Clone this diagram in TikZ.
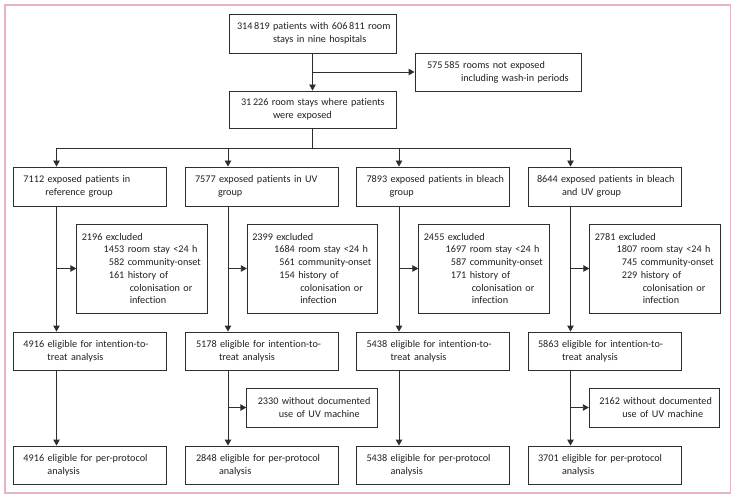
\documentclass[tikz,border=0pt]{standalone}
\usepackage{fontspec}
\setmainfont[Ligatures=NoCommon]{Carlito}
\usetikzlibrary{arrows.meta}
\definecolor{linec}{RGB}{45,45,45}
\definecolor{textc}{RGB}{35,31,32}
\definecolor{pinkc}{RGB}{232,178,200}
\newcommand\nf{\fontsize{10.2bp}{12.7bp}\selectfont}
\newcommand\exn[1]{\makebox[46bp][r]{#1\ }}
\newcommand\Ln[2]{\hbox{\kern#1bp\relax#2}}
\tikzset{
  box/.style n args={2}{draw=linec, line width=0.9bp, inner sep=0pt,
    text width=#1, minimum height=#2, align=left, font=\nf, text=textc},
  arr/.style={draw=linec, line width=0.9bp, -{Triangle[length=6bp,width=6.5bp]}},
  ln/.style={draw=linec, line width=0.9bp}
}
\begin{document}
\begin{tikzpicture}[x=1bp,y=-1bp]
\useasboundingbox (0,0) rectangle (735,499);
\draw[pinkc, line width=1.4bp] (5,5) rectangle (730.5,493);

% top part
\node[box={167bp}{39bp}] (top) at (312.5,33.5)
  {\vbox{\Ln{8}{314\,819 patients with 606\,811 room}\Ln{44}{stays in nine hospitals}}};
\node[box={166bp}{38bp}] (ex0) at (498,72)
  {\vbox{\Ln{12}{575\,585 rooms not exposed}\Ln{46}{including wash-in periods}}};
\node[box={167bp}{37bp}] (exp) at (312.5,109.5)
  {\vbox{\Ln{12}{31\,226 room stays where patients}\Ln{44}{were exposed}}};

\coordinate (b0) at (312.5,72);
\draw[arr] (top.south) -- (exp.north);
\draw[arr] (b0) -- (ex0.west);

% hub
\coordinate (hub) at (312.5,148);
\coordinate (h1) at (56.5,148);
\coordinate (h2) at (228,148);
\coordinate (h3) at (399,148);
\coordinate (h4) at (570.5,148);
\draw[ln] (exp.south) -- (hub);
\draw[ln] (h1) -- (h4);

% groups
\node[box={153bp}{39bp}] (g1) at (90,186.5)
  {\vbox{\Ln{10}{7112 exposed patients in}\Ln{32}{reference group}}};
\node[box={153bp}{39bp}] (g2) at (261.5,186.5)
  {\vbox{\Ln{10}{7577 exposed patients in UV}\Ln{33}{group}}};
\node[box={153bp}{39bp}] (g3) at (433,186.5)
  {\vbox{\Ln{10}{7893 exposed patients in bleach}\Ln{33}{group}}};
\node[box={153bp}{39bp}] (g4) at (604.5,186.5)
  {\vbox{\Ln{9}{8644 exposed patients in bleach}\Ln{34}{and UV group}}};

% exclusions
\node[box={130.5bp}{89bp}] (x1) at (142,268.5)
  {\vbox{\Ln{5}{2196 excluded}\Ln{5}{\exn{1453}room stay <24 h}\Ln{5}{\exn{582}community-onset}\Ln{5}{\exn{161}history of}\Ln{53}{colonisation or}\Ln{53}{infection}}};
\node[box={130.5bp}{89bp}] (x2) at (312.5,268.5)
  {\vbox{\Ln{5}{2399 excluded}\Ln{5}{\exn{1684}room stay <24 h}\Ln{5}{\exn{561}community-onset}\Ln{5}{\exn{154}history of}\Ln{53}{colonisation or}\Ln{53}{infection}}};
\node[box={130.5bp}{89bp}] (x3) at (484,268.5)
  {\vbox{\Ln{5}{2455 excluded}\Ln{5}{\exn{1697}room stay <24 h}\Ln{5}{\exn{587}community-onset}\Ln{5}{\exn{171}history of}\Ln{53}{colonisation or}\Ln{53}{infection}}};
\node[box={130.5bp}{89bp}] (x4) at (655,268.5)
  {\vbox{\Ln{5}{2781 excluded}\Ln{5}{\exn{1807}room stay <24 h}\Ln{5}{\exn{745}community-onset}\Ln{5}{\exn{229}history of}\Ln{53}{colonisation or}\Ln{53}{infection}}};

% ITT
\node[box={153bp}{38bp}] (i1) at (90,351)
  {\vbox{\Ln{10}{4916 eligible for intention-to-}\Ln{34}{treat analysis}}};
\node[box={153bp}{38bp}] (i2) at (261.5,351)
  {\vbox{\Ln{11}{5178 eligible for intention-to-}\Ln{34}{treat analysis}}};
\node[box={153bp}{38bp}] (i3) at (433,351)
  {\vbox{\Ln{10}{5438 eligible for intention-to-}\Ln{34}{treat analysis}}};
\node[box={153bp}{38bp}] (i4) at (604.5,351)
  {\vbox{\Ln{10}{5863 eligible for intention-to-}\Ln{34}{treat analysis}}};

% UV machine
\node[box={130.5bp}{39bp}] (u2) at (312,407.5)
  {\vbox{\Ln{11}{2330 without documented}\Ln{32}{use of UV machine}}};
\node[box={130.5bp}{39bp}] (u4) at (654.5,407.5)
  {\vbox{\Ln{10}{2162 without documented}\Ln{33}{use of UV machine}}};

% PP
\node[box={153bp}{38bp}] (p1) at (90,465)
  {\vbox{\Ln{10}{4916 eligible for per-protocol}\Ln{34}{analysis}}};
\node[box={153bp}{38bp}] (p2) at (261.5,465)
  {\vbox{\Ln{11}{2848 eligible for per-protocol}\Ln{34}{analysis}}};
\node[box={153bp}{38bp}] (p3) at (433,465)
  {\vbox{\Ln{10}{5438 eligible for per-protocol}\Ln{34}{analysis}}};
\node[box={153bp}{38bp}] (p4) at (604.5,465)
  {\vbox{\Ln{10}{3701 eligible for per-protocol}\Ln{34}{analysis}}};

% connectors
\foreach \k in {1,2,3,4}{
  \draw[arr] (h\k) -- (h\k |- g\k.north);
  \draw[arr] (h\k |- g\k.south) -- (h\k |- i\k.north);
  \draw[arr] (h\k |- x\k.west) -- (x\k.west);
  \draw[arr] (h\k |- i\k.south) -- (h\k |- p\k.north);
}
\draw[arr] (h2 |- u2.west) -- (u2.west);
\draw[arr] (h4 |- u4.west) -- (u4.west);
\end{tikzpicture}
\end{document}
